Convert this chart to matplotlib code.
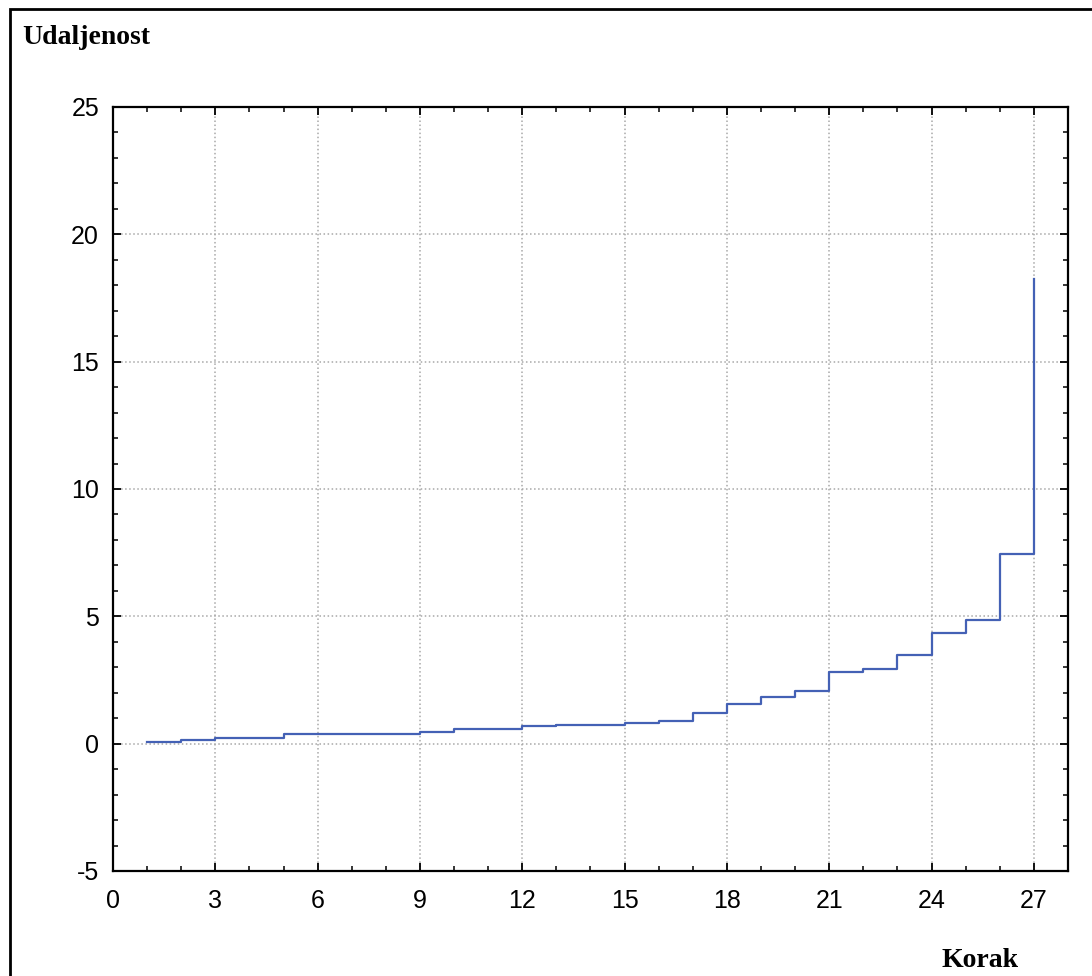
import matplotlib
matplotlib.use('Agg')
import matplotlib.pyplot as plt
from matplotlib.patches import Rectangle
from matplotlib.ticker import MultipleLocator

plt.rcParams['axes.unicode_minus'] = False

# Amalgamation schedule: linkage distance per step
steps = list(range(1, 28))
distances = [0.08, 0.16, 0.24, 0.24, 0.39, 0.39, 0.39, 0.39, 0.46, 0.59,
             0.59, 0.68, 0.73, 0.73, 0.80, 0.89, 1.19, 1.56, 1.85, 2.07,
             2.80, 2.94, 3.47, 4.35, 4.86, 7.45, 18.26]
x_ticks = [0, 3, 6, 9, 12, 15, 18, 21, 24, 27]
y_ticks = [-5, 0, 5, 10, 15, 20, 25]

fig = plt.figure(figsize=(10.92, 9.76), dpi=100)
ax = fig.add_axes([113 / 1092, 105 / 976, 955 / 1092, 764 / 976])

ax.step(steps, distances, where='post', color='#4461b5', linewidth=1.6)

ax.set_xlim(0, 28)
ax.set_ylim(-5, 25)
ax.set_xticks(x_ticks)
ax.set_yticks(y_ticks)
ax.xaxis.set_minor_locator(MultipleLocator(1))
ax.yaxis.set_minor_locator(MultipleLocator(1))
ax.grid(True, which='major', color='#a8a8a8', linestyle=':', linewidth=1.1)

ax.tick_params(which='both', direction='in', top=True, right=True, colors='black')
ax.tick_params(which='major', length=6, width=1.3)
ax.tick_params(which='minor', length=3.5, width=1.1)
ax.tick_params(axis='x', pad=13, labelsize=18)
ax.tick_params(axis='y', pad=10, labelsize=18)
for lbl in ax.get_xticklabels() + ax.get_yticklabels():
    lbl.set_fontfamily('Liberation Sans')
for sp in ax.spines.values():
    sp.set_linewidth(1.6)

fig.text(22 / 1092, 1 - 44 / 976, 'Udaljenost', family='Liberation Serif',
         fontweight='bold', fontsize=20, ha='left', va='baseline')
fig.text(980 / 1092, 1 - 967 / 976, 'Korak', family='Liberation Serif',
         fontweight='bold', fontsize=20, ha='center', va='baseline')

# outer frame of the exported graph window
fig.patches.append(Rectangle((10 / 1092, -0.05), 1.1, 1 - 9 / 976 + 0.05,
                             transform=fig.transFigure, fill=False,
                             edgecolor='black', linewidth=2))

fig.savefig('out.png', dpi=100)
